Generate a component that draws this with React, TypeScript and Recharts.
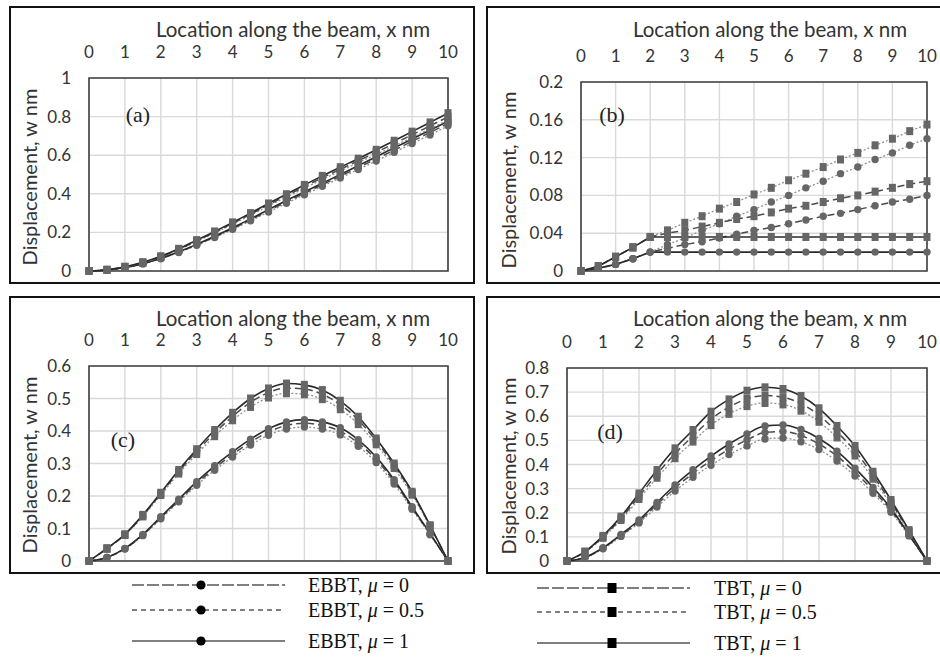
import React from 'react'
import { LineChart, Line, XAxis, YAxis, CartesianGrid, ReferenceArea } from 'recharts'

// location along the beam (nm), markers every 0.5 nm
const xs = [0, 0.5, 1, 1.5, 2, 2.5, 3, 3.5, 4, 4.5, 5, 5.5, 6, 6.5, 7, 7.5, 8, 8.5, 9, 9.5, 10]
const xTicks = [0, 1, 2, 3, 4, 5, 6, 7, 8, 9, 10]

// (a)
const aTbt1 = [0, 0.006, 0.022, 0.045, 0.076, 0.115, 0.16, 0.205, 0.252, 0.3, 0.35, 0.398, 0.446, 0.493, 0.538, 0.582, 0.628, 0.675, 0.722, 0.77, 0.818]
const aTbt0 = [0, 0.006, 0.021, 0.044, 0.074, 0.112, 0.156, 0.2, 0.247, 0.294, 0.343, 0.39, 0.437, 0.483, 0.527, 0.571, 0.615, 0.66, 0.706, 0.752, 0.798]
const aTbt05 = [0, 0.006, 0.021, 0.043, 0.073, 0.11, 0.153, 0.197, 0.243, 0.289, 0.337, 0.383, 0.429, 0.474, 0.518, 0.561, 0.604, 0.648, 0.692, 0.737, 0.782]
const aEbbt1 = [0, 0.005, 0.018, 0.038, 0.066, 0.1, 0.138, 0.18, 0.224, 0.27, 0.318, 0.365, 0.41, 0.455, 0.5, 0.546, 0.592, 0.638, 0.684, 0.73, 0.776]
const aEbbt0 = [0, 0.005, 0.018, 0.038, 0.065, 0.098, 0.136, 0.177, 0.22, 0.265, 0.312, 0.358, 0.403, 0.447, 0.491, 0.536, 0.581, 0.626, 0.672, 0.718, 0.764]
const aEbbt05 = [0, 0.005, 0.017, 0.037, 0.064, 0.096, 0.133, 0.173, 0.216, 0.26, 0.306, 0.351, 0.395, 0.439, 0.482, 0.526, 0.57, 0.615, 0.66, 0.705, 0.752]
const aYTicks = [0, 0.2, 0.4, 0.6, 0.8, 1]

// (b)
const bTbt1 = [0, 0.005, 0.015, 0.025, 0.036, 0.036, 0.036, 0.036, 0.036, 0.036, 0.036, 0.036, 0.036, 0.036, 0.036, 0.036, 0.036, 0.036, 0.036, 0.036, 0.036]
const bTbt0 = [0, 0.005, 0.015, 0.025, 0.036, 0.04, 0.043, 0.047, 0.051, 0.055, 0.058, 0.062, 0.066, 0.069, 0.073, 0.077, 0.08, 0.084, 0.088, 0.092, 0.095]
const bTbt05 = [0, 0.005, 0.015, 0.025, 0.036, 0.043, 0.051, 0.058, 0.066, 0.073, 0.081, 0.088, 0.096, 0.103, 0.11, 0.118, 0.125, 0.133, 0.14, 0.148, 0.155]
const bEbbt1 = [0, 0.003, 0.007, 0.013, 0.02, 0.02, 0.02, 0.02, 0.02, 0.02, 0.02, 0.02, 0.02, 0.02, 0.02, 0.02, 0.02, 0.02, 0.02, 0.02, 0.02]
const bEbbt0 = [0, 0.003, 0.007, 0.013, 0.02, 0.024, 0.028, 0.031, 0.035, 0.039, 0.043, 0.046, 0.05, 0.054, 0.058, 0.061, 0.065, 0.069, 0.073, 0.076, 0.08]
const bEbbt05 = [0, 0.003, 0.007, 0.013, 0.02, 0.028, 0.035, 0.043, 0.05, 0.058, 0.065, 0.073, 0.08, 0.088, 0.095, 0.103, 0.11, 0.118, 0.125, 0.133, 0.14]
const bYTicks = [0, 0.04, 0.08, 0.12, 0.16, 0.2]

// (c)
const cTbt1 = [0, 0.039, 0.082, 0.142, 0.21, 0.28, 0.344, 0.403, 0.456, 0.5, 0.531, 0.546, 0.542, 0.526, 0.493, 0.444, 0.377, 0.3, 0.213, 0.11, 0]
const cTbt0 = [0, 0.038, 0.081, 0.14, 0.207, 0.275, 0.337, 0.394, 0.445, 0.488, 0.518, 0.532, 0.529, 0.513, 0.481, 0.434, 0.369, 0.294, 0.209, 0.108, 0]
const cTbt05 = [0, 0.038, 0.08, 0.137, 0.203, 0.269, 0.329, 0.384, 0.433, 0.474, 0.503, 0.516, 0.513, 0.498, 0.467, 0.421, 0.359, 0.286, 0.204, 0.106, 0]
const cEbbt1 = [0, 0.011, 0.039, 0.082, 0.136, 0.19, 0.244, 0.293, 0.336, 0.375, 0.407, 0.428, 0.435, 0.428, 0.41, 0.373, 0.32, 0.25, 0.167, 0.085, 0]
const cEbbt0 = [0, 0.011, 0.038, 0.08, 0.133, 0.186, 0.238, 0.286, 0.328, 0.366, 0.397, 0.417, 0.424, 0.417, 0.399, 0.363, 0.312, 0.244, 0.163, 0.083, 0]
const cEbbt05 = [0, 0.011, 0.037, 0.078, 0.13, 0.182, 0.233, 0.279, 0.32, 0.357, 0.387, 0.406, 0.412, 0.406, 0.388, 0.353, 0.303, 0.237, 0.159, 0.081, 0]
const cYTicks = [0, 0.1, 0.2, 0.3, 0.4, 0.5, 0.6]

// (d)
const dTbt1 = [0, 0.039, 0.104, 0.184, 0.28, 0.377, 0.467, 0.543, 0.619, 0.67, 0.706, 0.72, 0.713, 0.684, 0.633, 0.56, 0.477, 0.37, 0.253, 0.128, 0]
const dTbt0 = [0, 0.038, 0.1, 0.177, 0.268, 0.36, 0.445, 0.518, 0.588, 0.638, 0.672, 0.686, 0.679, 0.652, 0.604, 0.535, 0.456, 0.355, 0.243, 0.124, 0]
const dTbt05 = [0, 0.037, 0.096, 0.17, 0.257, 0.345, 0.426, 0.495, 0.563, 0.61, 0.642, 0.655, 0.649, 0.623, 0.577, 0.512, 0.437, 0.341, 0.234, 0.12, 0]
const dEbbt1 = [0, 0.015, 0.055, 0.11, 0.17, 0.243, 0.315, 0.378, 0.435, 0.485, 0.527, 0.56, 0.564, 0.545, 0.508, 0.455, 0.385, 0.305, 0.218, 0.11, 0]
const dEbbt0 = [0, 0.015, 0.053, 0.106, 0.164, 0.234, 0.303, 0.363, 0.416, 0.463, 0.502, 0.533, 0.537, 0.52, 0.485, 0.435, 0.369, 0.293, 0.21, 0.107, 0]
const dEbbt05 = [0, 0.014, 0.051, 0.102, 0.158, 0.224, 0.29, 0.347, 0.397, 0.441, 0.477, 0.506, 0.51, 0.494, 0.462, 0.414, 0.352, 0.281, 0.202, 0.104, 0]
const dYTicks = [0, 0.1, 0.2, 0.3, 0.4, 0.5, 0.6, 0.7, 0.8]

const xTitle = 'Location along the beam, x nm'
const yTitle = 'Displacement, w nm'
const legendEbbt = ['0', '0.5', '1']
const legendTbt = ['0', '0.5', '1']

const sansFont = 'Lato, "Open Sans", sans-serif'
const serifFont = '"Liberation Serif", "Times New Roman", serif'
const markerFill = '#666'

// line style per mu value
const styles: Record<string, { stroke: string; dash?: string; width: number }> = {
  '05': { stroke: '#8f8f8f', dash: '2 2', width: 1.3 },
  '0': { stroke: '#4a4a4a', dash: '7 4', width: 1.5 },
  '1': { stroke: '#2a2a2a', width: 1.6 },
}

const circleDot = (props: any) => {
  const { cx, cy, index } = props
  if (cx == null || cy == null) return <g key={'c' + index} />
  return <circle key={'c' + index} cx={cx} cy={cy} r={3.7} fill={markerFill} />
}

const squareDot = (props: any) => {
  const { cx, cy, index } = props
  if (cx == null || cy == null) return <g key={'s' + index} />
  return <rect key={'s' + index} x={cx - 3.5} y={cy - 4} width={7} height={8} fill={markerFill} />
}

const fmt = (v: number) => String(Number(v.toFixed(2)))

type PanelProps = {
  ebbt: number[][] // mu 0, 0.5, 1
  tbt: number[][]
  yTicks: number[]
  left: number
  top: number
  plot: { l: number; r: number; t: number; b: number }
  curve: 'linear' | 'monotone'
}

function Panel({ ebbt, tbt, yTicks, left, top, plot, curve }: PanelProps) {
  const W = 460
  const H = 280
  const yW = 60
  const xH = 40
  const rows = xs.map((x, i) => ({
    x,
    e0: ebbt[0][i],
    e05: ebbt[1][i],
    e1: ebbt[2][i],
    t0: tbt[0][i],
    t05: tbt[1][i],
    t1: tbt[2][i],
  }))
  const yMax = yTicks[yTicks.length - 1]
  const margin = {
    left: plot.l - left - yW,
    right: left + W - plot.r,
    top: plot.t - top - xH,
    bottom: top + H - plot.b,
  }
  const order = ['05', '0', '1']
  return (
    <div style={{ position: 'absolute', left, top }}>
      <LineChart width={W} height={H} data={rows} margin={margin}>
        <CartesianGrid stroke='#d9d9d9' strokeWidth={1.4} />
        <XAxis
          dataKey='x'
          type='number'
          orientation='top'
          domain={[0, 10]}
          ticks={xTicks}
          interval={0}
          height={xH}
          axisLine={false}
          tickLine={false}
          tickSize={0}
          tickMargin={20}
          tick={{ fill: '#333', fontSize: 17, fontFamily: sansFont }}
        />
        <YAxis
          type='number'
          domain={[0, yMax]}
          ticks={yTicks}
          interval={0}
          width={yW}
          axisLine={false}
          tickLine={false}
          tickSize={0}
          tickMargin={18}
          tickFormatter={fmt}
          tick={{ fill: '#333', fontSize: 17, fontFamily: sansFont }}
        />
        <ReferenceArea x1={0} x2={10} y1={0} y2={yMax} fill='none' stroke='#404040' strokeWidth={1.6} />
        {order.map((m) => (
          <Line
            key={'e' + m}
            type={curve}
            dataKey={'e' + m}
            stroke={styles[m].stroke}
            strokeWidth={styles[m].width}
            strokeDasharray={styles[m].dash}
            dot={circleDot}
            activeDot={false}
            isAnimationActive={false}
          />
        ))}
        {order.map((m) => (
          <Line
            key={'t' + m}
            type={curve}
            dataKey={'t' + m}
            stroke={styles[m].stroke}
            strokeWidth={styles[m].width}
            strokeDasharray={styles[m].dash}
            dot={squareDot}
            activeDot={false}
            isAnimationActive={false}
          />
        ))}
      </LineChart>
    </div>
  )
}

const Box = ({ left, top }: { left: number; top: number }) => (
  <div
    style={{
      position: 'absolute',
      left,
      top,
      width: left > 400 ? 462 : 466,
      height: 278,
      border: '2.5px solid #111',
      boxSizing: 'border-box',
    }}
  />
)

const XTitle = ({ cx, cy }: { cx: number; cy: number }) => (
  <div
    style={{
      position: 'absolute',
      left: cx - 200,
      top: cy - 13,
      width: 400,
      height: 26,
      lineHeight: '26px',
      textAlign: 'center',
      fontFamily: sansFont,
      fontSize: 20.5,
      color: '#333',
    }}
  >
    {xTitle}
  </div>
)

const YTitle = ({ cx, cy }: { cx: number; cy: number }) => (
  <div
    style={{
      position: 'absolute',
      left: cx - 120,
      top: cy - 13,
      width: 240,
      height: 26,
      lineHeight: '26px',
      textAlign: 'center',
      fontFamily: sansFont,
      fontSize: 20,
      color: '#333',
      transform: 'rotate(-90deg)',
    }}
  >
    {yTitle}
  </div>
)

const Tag = ({ cx, cy, text }: { cx: number; cy: number; text: string }) => (
  <div
    style={{
      position: 'absolute',
      left: cx - 30,
      top: cy - 14,
      width: 60,
      height: 28,
      lineHeight: '28px',
      textAlign: 'center',
      fontFamily: serifFont,
      fontSize: 22,
      color: '#222',
    }}
  >
    {text}
  </div>
)

const legendDash = ['12 3', '5 4', undefined]

function LegendGroup({ name, mus, x1, x2, mx, tx, ys, square }: {
  name: string
  mus: string[]
  x1: number
  x2: number
  mx: number
  tx: number
  ys: number[]
  square: boolean
}) {
  return (
    <>
      <svg style={{ position: 'absolute', left: 0, top: 0 }} width={940} height={657}>
        {ys.map((y, i) => (
          <g key={i}>
            <line x1={x1} x2={x2} y1={y} y2={y} stroke='#555' strokeWidth={1.4} strokeDasharray={legendDash[i]} />
            {square ? (
              <rect x={mx - 4.5} y={y - 5} width={9} height={10} fill='#000' />
            ) : (
              <circle cx={mx} cy={y} r={4.6} fill='#000' />
            )}
          </g>
        ))}
      </svg>
      {ys.map((y, i) => (
        <div
          key={'t' + i}
          style={{
            position: 'absolute',
            left: tx,
            top: y - 13,
            height: 26,
            lineHeight: '26px',
            fontFamily: serifFont,
            fontSize: 20,
            color: '#111',
            whiteSpace: 'nowrap',
          }}
        >
          {name}, <i>μ</i> = {mus[i]}
        </div>
      ))}
    </>
  )
}

export default function App() {
  return (
    <div
      style={{
        position: 'absolute',
        left: 0,
        top: 0,
        width: 940,
        height: 657,
        background: '#fff',
        overflow: 'hidden',
      }}
    >
      <Box left={9} top={6} />
      <Box left={486} top={6} />
      <Box left={9} top={296} />
      <Box left={486} top={296} />

      <Panel
        ebbt={[aEbbt0, aEbbt05, aEbbt1]}
        tbt={[aTbt0, aTbt05, aTbt1]}
        yTicks={aYTicks}
        left={9}
        top={6}
        plot={{ l: 89, r: 448, t: 78, b: 271 }}
        curve='monotone'
      />
      <Panel
        ebbt={[bEbbt0, bEbbt05, bEbbt1]}
        tbt={[bTbt0, bTbt05, bTbt1]}
        yTicks={bYTicks}
        left={486}
        top={6}
        plot={{ l: 581, r: 927, t: 82, b: 271 }}
        curve='linear'
      />
      <Panel
        ebbt={[cEbbt0, cEbbt05, cEbbt1]}
        tbt={[cTbt0, cTbt05, cTbt1]}
        yTicks={cYTicks}
        left={9}
        top={296}
        plot={{ l: 89, r: 448, t: 366, b: 561 }}
        curve='monotone'
      />
      <Panel
        ebbt={[dEbbt0, dEbbt05, dEbbt1]}
        tbt={[dTbt0, dTbt05, dTbt1]}
        yTicks={dYTicks}
        left={486}
        top={296}
        plot={{ l: 567, r: 927, t: 368, b: 561 }}
        curve='monotone'
      />

      <XTitle cx={293} cy={29} />
      <XTitle cx={770} cy={29} />
      <XTitle cx={293} cy={318} />
      <XTitle cx={770} cy={318} />

      <YTitle cx={29} cy={177} />
      <YTitle cx={508} cy={180} />
      <YTitle cx={29} cy={465} />
      <YTitle cx={508} cy={466} />

      <Tag cx={138} cy={115} text='(a)' />
      <Tag cx={612} cy={115} text='(b)' />
      <Tag cx={123} cy={440} text='(c)' />
      <Tag cx={610} cy={432} text='(d)' />

      <LegendGroup name='EBBT' mus={legendEbbt} x1={132} x2={285} mx={201} tx={308} ys={[585, 610, 641]} square={false} />
      <LegendGroup name='TBT' mus={legendTbt} x1={537} x2={690} mx={612} tx={714} ys={[588, 612, 643]} square />
    </div>
  )
}
